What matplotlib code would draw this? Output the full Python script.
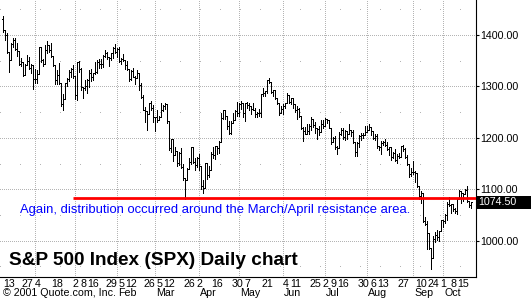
import pandas as pd
import matplotlib
matplotlib.use('Agg')
import matplotlib.pyplot as plt
from matplotlib.collections import LineCollection
from matplotlib.patches import Rectangle

plt.rcParams['font.family'] = ['Liberation Sans', 'DejaVu Sans']

# trading days on the chart (Nov 8 2000 - Oct 19 2001)
holidays = ['2000-11-23', '2000-12-25', '2001-01-01', '2001-01-15', '2001-02-19',
            '2001-04-13', '2001-05-28', '2001-07-04', '2001-09-03',
            '2001-09-11', '2001-09-12', '2001-09-13', '2001-09-14']
dates = pd.bdate_range('2000-11-08', '2001-10-19')
dates = dates[~dates.isin(pd.to_datetime(holidays))]

# daily OHLC, one row per month
opens = [
    1431, 1409, 1400, 1366, 1351, 1383, 1390, 1372, 1368, 1343, 1347, 1322, 1342, 1349, 1336, 1342,
    1315, 1315, 1325, 1377, 1351, 1344, 1370, 1380, 1371, 1360, 1341, 1312, 1323, 1306, 1265, 1275, 1306, 1315, 1329, 1334,
    1320, 1283, 1348, 1333, 1298, 1296, 1301, 1313, 1327, 1319, 1327, 1329, 1348, 1343, 1343, 1360, 1364, 1358, 1355, 1364, 1374,
    1366, 1373, 1349, 1354, 1352, 1341, 1333, 1315, 1330, 1319, 1316, 1327, 1302, 1279, 1255, 1253, 1246, 1268, 1258,
    1240, 1241, 1234, 1241, 1254, 1262, 1265, 1233, 1180, 1198, 1167, 1174, 1151, 1171, 1143, 1122, 1118, 1140, 1153, 1182, 1153, 1148,
    1160, 1146, 1106, 1103, 1151, 1128, 1138, 1168, 1166, 1184, 1180, 1192, 1238, 1254, 1243, 1224, 1209, 1229, 1235, 1253,
    1249, 1266, 1267, 1249, 1267, 1264, 1261, 1256, 1255, 1246, 1249, 1249, 1285, 1288, 1292, 1313, 1309, 1289, 1293, 1278, 1268, 1248,
    1256, 1261, 1267, 1284, 1270, 1277, 1265, 1254, 1256, 1242, 1220, 1214, 1208, 1213, 1223, 1237, 1225, 1219, 1217, 1211, 1226,
    1224, 1237, 1234, 1219, 1191, 1199, 1182, 1180, 1208, 1216, 1202, 1214, 1208, 1215, 1211, 1191, 1172, 1190, 1203, 1206, 1205,
    1211, 1216, 1221, 1214, 1200, 1204, 1184, 1183, 1190, 1191, 1187, 1178, 1182, 1162, 1171, 1157, 1165, 1162, 1185, 1179, 1162, 1149, 1129,
    1134, 1133, 1132, 1106, 1086, 1093, 1039, 1033, 1016, 985, 966, 1003, 1012, 1007, 1019,
    1041, 1039, 1051, 1072, 1070, 1071, 1062, 1057, 1081, 1097, 1092, 1090, 1098, 1077, 1069,
]
highs = [
    1437, 1410, 1403, 1366, 1384, 1395, 1394, 1384, 1368, 1355, 1348, 1343, 1362, 1358, 1344, 1342,
    1334, 1332, 1377, 1377, 1353, 1380, 1389, 1380, 1385, 1360, 1341, 1332, 1346, 1306, 1285, 1306, 1317, 1332, 1336, 1341,
    1321, 1348, 1350, 1335, 1298, 1312, 1314, 1332, 1333, 1327, 1347, 1352, 1354, 1354, 1362, 1370, 1367, 1358, 1365, 1376, 1383,
    1374, 1377, 1355, 1363, 1352, 1350, 1333, 1331, 1336, 1320, 1331, 1327, 1307, 1283, 1260, 1253, 1268, 1272, 1263,
    1241, 1255, 1242, 1267, 1263, 1267, 1265, 1233, 1198, 1198, 1182, 1174, 1173, 1180, 1150, 1122, 1141, 1160, 1183, 1182, 1161, 1162,
    1169, 1146, 1118, 1152, 1151, 1146, 1173, 1183, 1184, 1184, 1193, 1248, 1254, 1254, 1243, 1233, 1232, 1248, 1255, 1269,
    1267, 1272, 1267, 1267, 1270, 1268, 1261, 1268, 1259, 1250, 1257, 1286, 1297, 1292, 1313, 1316, 1309, 1294, 1293, 1278, 1268, 1262,
    1265, 1268, 1287, 1284, 1278, 1277, 1265, 1261, 1259, 1242, 1221, 1222, 1227, 1226, 1241, 1237, 1231, 1219, 1223, 1234, 1235,
    1239, 1237, 1234, 1219, 1201, 1203, 1185, 1211, 1219, 1219, 1215, 1214, 1226, 1215, 1215, 1191, 1191, 1205, 1209, 1209, 1223,
    1223, 1226, 1221, 1214, 1207, 1207, 1185, 1193, 1194, 1198, 1191, 1182, 1182, 1172, 1179, 1169, 1170, 1185, 1187, 1180, 1166, 1149, 1141,
    1155, 1135, 1132, 1106, 1097, 1093, 1046, 1038, 1016, 985, 1009, 1017, 1020, 1019, 1041,
    1041, 1052, 1075, 1085, 1072, 1071, 1064, 1081, 1099, 1097, 1092, 1101, 1107, 1078, 1076,
]
lows = [
    1405, 1390, 1365, 1329, 1351, 1377, 1370, 1360, 1341, 1340, 1321, 1322, 1341, 1334, 1326, 1295,
    1307, 1307, 1325, 1348, 1340, 1344, 1364, 1366, 1357, 1339, 1305, 1304, 1305, 1262, 1254, 1275, 1301, 1310, 1318, 1317,
    1275, 1274, 1329, 1294, 1277, 1294, 1288, 1299, 1310, 1313, 1325, 1327, 1336, 1336, 1338, 1358, 1354, 1339, 1351, 1356, 1364,
    1358, 1348, 1344, 1350, 1334, 1332, 1310, 1313, 1318, 1304, 1316, 1293, 1277, 1254, 1230, 1215, 1246, 1254, 1230,
    1214, 1231, 1234, 1241, 1253, 1257, 1228, 1177, 1172, 1155, 1166, 1146, 1148, 1142, 1119, 1081, 1118, 1140, 1150, 1152, 1137, 1143,
    1137, 1101, 1092, 1103, 1120, 1123, 1138, 1160, 1159, 1168, 1171, 1192, 1236, 1237, 1217, 1208, 1207, 1229, 1235, 1243,
    1242, 1257, 1240, 1232, 1259, 1254, 1247, 1254, 1240, 1241, 1243, 1241, 1282, 1281, 1288, 1307, 1288, 1281, 1276, 1265, 1245, 1248,
    1246, 1258, 1267, 1268, 1265, 1259, 1250, 1236, 1241, 1218, 1193, 1207, 1208, 1207, 1216, 1222, 1210, 1198, 1205, 1211, 1220,
    1224, 1229, 1219, 1188, 1191, 1179, 1168, 1180, 1205, 1197, 1196, 1198, 1208, 1204, 1190, 1165, 1165, 1182, 1196, 1200, 1205,
    1211, 1215, 1205, 1198, 1195, 1181, 1176, 1169, 1186, 1185, 1177, 1166, 1156, 1160, 1155, 1152, 1160, 1162, 1175, 1161, 1148, 1124, 1126,
    1129, 1114, 1105, 1082, 1073, 1037, 1030, 984, 984, 945, 966, 998, 1002, 999, 1018,
    1026, 1034, 1041, 1068, 1054, 1057, 1053, 1052, 1081, 1073, 1078, 1090, 1076, 1065, 1063,
]
closes = [
    1409, 1400, 1366, 1351, 1383, 1390, 1372, 1368, 1343, 1347, 1322, 1342, 1349, 1336, 1342, 1315,
    1315, 1325, 1377, 1351, 1344, 1370, 1380, 1371, 1360, 1341, 1312, 1323, 1306, 1265, 1275, 1306, 1315, 1329, 1334, 1320,
    1283, 1348, 1333, 1298, 1296, 1301, 1313, 1327, 1319, 1327, 1329, 1348, 1343, 1343, 1360, 1364, 1358, 1355, 1364, 1374, 1366,
    1373, 1349, 1354, 1352, 1341, 1333, 1315, 1330, 1319, 1316, 1327, 1302, 1279, 1255, 1253, 1246, 1268, 1258, 1240,
    1241, 1234, 1241, 1254, 1262, 1265, 1233, 1180, 1198, 1167, 1174, 1151, 1171, 1143, 1122, 1118, 1140, 1153, 1182, 1153, 1148, 1160,
    1146, 1106, 1103, 1151, 1128, 1138, 1168, 1166, 1184, 1180, 1192, 1238, 1254, 1243, 1224, 1209, 1229, 1235, 1253, 1249,
    1266, 1267, 1249, 1267, 1264, 1261, 1256, 1255, 1246, 1249, 1249, 1285, 1288, 1292, 1313, 1309, 1289, 1293, 1278, 1268, 1248, 1256,
    1261, 1267, 1284, 1270, 1277, 1265, 1254, 1256, 1242, 1220, 1214, 1208, 1213, 1223, 1237, 1225, 1219, 1217, 1211, 1226, 1224,
    1237, 1234, 1219, 1191, 1199, 1182, 1180, 1208, 1216, 1202, 1214, 1208, 1215, 1211, 1191, 1172, 1190, 1203, 1206, 1205, 1211,
    1216, 1221, 1214, 1200, 1204, 1184, 1183, 1190, 1191, 1187, 1178, 1182, 1162, 1171, 1157, 1165, 1162, 1185, 1179, 1162, 1149, 1129, 1134,
    1133, 1132, 1106, 1086, 1093, 1039, 1033, 1016, 985, 966, 1003, 1012, 1007, 1019, 1041,
    1039, 1051, 1072, 1070, 1071, 1062, 1057, 1081, 1097, 1092, 1090, 1098, 1077, 1069, 1074.5,
]

# weekly date labels that are printed under the chart
tick_days = ['2000-11-13', '2000-11-27', '2000-12-04', '2000-12-18', '2001-01-02', '2001-01-08',
             '2001-01-16', '2001-01-29', '2001-02-05', '2001-02-12', '2001-02-26', '2001-03-05',
             '2001-03-12', '2001-03-26', '2001-04-02', '2001-04-16', '2001-04-30', '2001-05-07',
             '2001-05-21', '2001-06-04', '2001-06-11', '2001-06-25', '2001-07-02', '2001-07-09',
             '2001-07-16', '2001-07-30', '2001-08-06', '2001-08-13', '2001-08-27', '2001-09-10',
             '2001-09-24', '2001-10-01', '2001-10-08', '2001-10-15']
month_starts = ['2000-12-01', '2001-01-02', '2001-02-01', '2001-03-01', '2001-04-02', '2001-05-01',
                '2001-06-01', '2001-07-02', '2001-08-01', '2001-09-04', '2001-10-01']
month_labels = ['', '', 'Feb', 'Mar', 'Apr', 'May', 'Jun', 'Jul', 'Aug', 'Sep', 'Oct']
price_ticks = [1000, 1100, 1200, 1300, 1400]
minor_ticks = [950, 1050, 1150, 1250, 1350, 1450]
resistance = 1083
resistance_from = '2000-12-29'

W, H = 531, 298
fig = plt.figure(figsize=(W / 100, H / 100), dpi=100)
ax = fig.add_axes([0, 21 / H, 476 / W, 277 / H])
ax.set_xlim(-1.65, 236.35)
ax.set_ylim(929.5, 1468)

pos = {d: i for i, d in enumerate(dates)}
def idx(s):
    return pos[pd.Timestamp(s)]

# grid
grid_c = '#b4b4b4'
for v in price_ticks:
    ax.axhline(v, color=grid_c, lw=0.72, ls=(0, (1, 2)), zorder=0, antialiased=False)
for v in minor_ticks:
    ax.axhline(v, color=grid_c, lw=0.72, ls=(0, (1, 19)), zorder=0, antialiased=False)
for m in month_starts:
    ax.axvline(idx(m), color=grid_c, lw=0.72, ls=(0, (1, 2)), zorder=0, antialiased=False)

# OHLC bars
segs = []
for i in range(len(closes)):
    segs.append([(i, lows[i]), (i, highs[i])])
    segs.append([(i - 0.5, opens[i]), (i, opens[i])])
    segs.append([(i, closes[i]), (i + 0.5, closes[i])])
ax.add_collection(LineCollection(segs, colors='black', linewidths=0.7, zorder=2,
                                 antialiaseds=False))

# resistance line
ax.hlines(resistance, idx(resistance_from), 236.35, colors='#ff0000', lw=2.0, zorder=3)

# axes look
for s in ['left', 'top']:
    ax.spines[s].set_visible(False)
for s in ['right', 'bottom']:
    ax.spines[s].set_linewidth(0.8)
ax.yaxis.tick_right()
ax.set_yticks(price_ticks)
ax.set_yticklabels(['%.2f' % v for v in price_ticks])
ax.tick_params(axis='y', length=2, width=0.8, pad=1, labelsize=7.7)
ax.set_xticks([idx(d) for d in tick_days])
ax.set_xticklabels([str(pd.Timestamp(d).day) for d in tick_days])
ax.tick_params(axis='x', length=0, pad=1.2, labelsize=7.7)

for m, lab in zip(month_starts, month_labels):
    if lab:
        ax.text(idx(m) + 0.5, -16.5 / 277, lab, transform=ax.get_xaxis_transform(),
                ha='left', va='center', fontsize=7.7)
fig.text(3 / W, 1 - 293.5 / H, '\u00a9 2001 Quote.com, Inc.', ha='left', va='center', fontsize=7.7)

# last price box
fig.canvas.draw()
ypix = ax.transData.transform((0, closes[-1]))[1]
fig.patches.append(Rectangle((477 / W, (ypix - 6.7) / H), 54 / W, 13.4 / H,
                             transform=fig.transFigure, facecolor='black', edgecolor='none'))
fig.text(478 / W, ypix / H, '%.2f' % closes[-1], color='white', ha='left', va='center',
         fontsize=7.7)

# annotation and title
fig.text(20 / W, 1 - 212.7 / H,
         'Again, distribution occurred around the March/April resistance area.',
         color='#0000ff', fontsize=9.37, ha='left', va='baseline')
fig.text(9 / W, 1 - 265 / H, 'S&P 500 Index (SPX) Daily chart', fontsize=13.7,
         fontweight='bold', ha='left', va='baseline')

fig.savefig('out.png', dpi=100)
